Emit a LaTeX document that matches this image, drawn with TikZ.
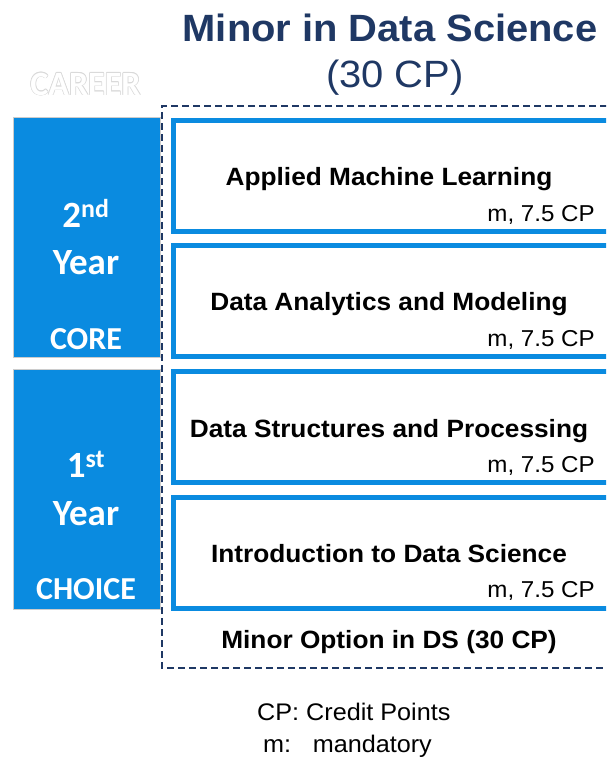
\documentclass[tikz,border=0pt]{standalone}
\usepackage{fontspec}
\setmainfont{Liberation Sans}[FakeStretch=1.05]
\newfontfamily\yearfont{Carlito}
\usetikzlibrary{calc}
\definecolor{dsblue}{HTML}{0A8BE0}
\definecolor{dsnavy}{HTML}{1F3864}
\tikzset{
    yearbox/.style={fill=dsblue, draw=gray!40, line width=0.6pt, outer sep=0pt,
        minimum width=147pt, minimum height=240pt, inner sep=0pt, anchor=north west},
    coursebox/.style={draw=dsblue, fill=white, line width=5pt, outer sep=0pt,
        minimum width=440pt, minimum height=111pt, inner sep=0pt, anchor=north west},
    yeartext/.style={text=white, font=\yearfont\bfseries\fontsize{37}{40}\selectfont, anchor=base, inner sep=0pt},
    tagtext/.style={text=white, font=\yearfont\bfseries\fontsize{32}{36}\selectfont, anchor=base, inner sep=0pt},
    coursetitle/.style={font=\bfseries\fontsize{25}{30}\selectfont, anchor=base, inner sep=0pt},
    credit/.style={font=\fontsize{23}{28}\selectfont, anchor=base east, inner sep=0pt}
}

\begin{document}
\begin{tikzpicture}[x=1pt, y=-1pt]

    \useasboundingbox (0,0) rectangle (606,760);
    \clip (0,0) rectangle (606,760);

    \def\boxx{173.5}
    \def\midx{389}
    \def\cpx{595}

    % Titre
    \node[anchor=base, inner sep=0pt, text=dsnavy, font=\bfseries\fontsize{38}{44}\selectfont]
        (heading) at (390,42) {Minor in Data Science};
    \node[anchor=base, inner sep=0pt, text=dsnavy, font=\fontsize{38}{44}\selectfont]
        (headcp) at (395,88) {(30 CP)};

    % CAREER en blanc avec contour gris
    \coordinate (careerpos) at (85.5,95);
    \foreach \a in {0,45,...,315}
        \node[tagtext, text=gray!30, font=\yearfont\bfseries\fontsize{34}{38}\selectfont]
            at ($(careerpos)+(\a:0.7)$) {CAREER};
    \node[tagtext, font=\yearfont\bfseries\fontsize{34}{38}\selectfont]
        (career) at (careerpos) {CAREER};

    % cadre en tirets
    \draw[dsnavy, line width=1.6pt, dash pattern=on 7pt off 4pt]
        (640,106) -- (162,106) -- (162,668) -- (640,668);

    % blocs des années
    \node[yearbox] (second) at (13,117) {};
    \node[yeartext] (secondnum) at (86,227) {2\textsuperscript{nd}};
    \node[yeartext] (secondyear) at (86,274) {Year};
    \node[tagtext] (core) at (86,349) {CORE};

    \node[yearbox] (first) at (13,369) {};
    \node[yeartext] (firstnum) at (86,477) {1\textsuperscript{st}};
    \node[yeartext] (firstyear) at (86,525) {Year};
    \node[tagtext] (choice) at (86,599) {CHOICE};

    % modules
    \node[coursebox] (aml) at (\boxx,120.5) {};
    \node[coursetitle] (amltitle) at (\midx,185) {Applied Machine Learning};
    \node[credit] (amlcp) at (\cpx,221) {m, 7.5 CP};

    \node[coursebox] (dam) at (\boxx,245.5) {};
    \node[coursetitle] (damtitle) at (\midx,310) {Data Analytics and Modeling};
    \node[credit] (damcp) at (\cpx,346) {m, 7.5 CP};

    \node[coursebox] (dsp) at (\boxx,371.5) {};
    \node[coursetitle] (dsptitle) at (\midx,437) {Data Structures and Processing};
    \node[credit] (dspcp) at (\cpx,472) {m, 7.5 CP};

    \node[coursebox] (ids) at (\boxx,497.5) {};
    \node[coursetitle] (idstitle) at (\midx,562) {Introduction to Data Science};
    \node[credit] (idscp) at (\cpx,597) {m, 7.5 CP};

    \node[coursetitle] (option) at (\midx,648) {Minor Option in DS (30 CP)};

    % légende
    \node[anchor=base west, inner sep=0pt, font=\fontsize{24}{28}\selectfont]
        (legendcp) at (257,720) {CP: Credit Points};
    \node[anchor=base west, inner sep=0pt, font=\fontsize{24}{28}\selectfont]
        (legendm) at (263,752) {m:\hspace{0.9em}mandatory};

\end{tikzpicture}
\end{document}
